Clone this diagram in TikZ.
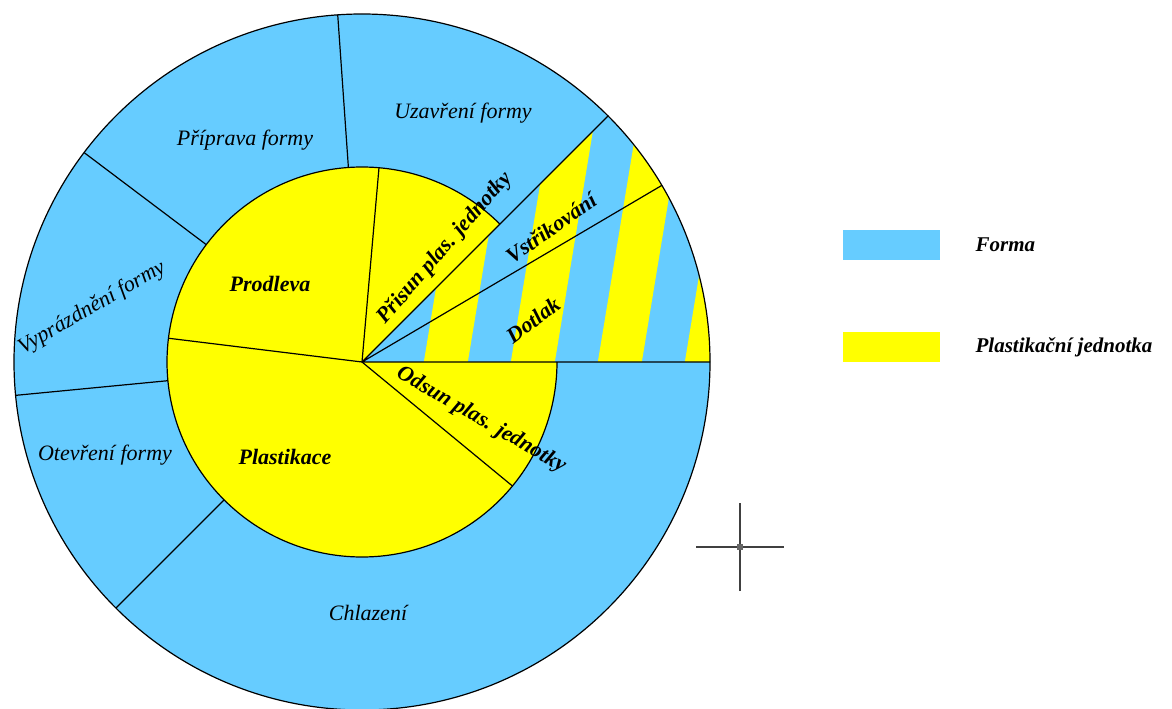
\documentclass[tikz,border=0pt]{standalone}
\usepackage{fontspec}
\setmainfont{Liberation Serif}
\usepackage{tikz}
\definecolor{formablue}{RGB}{102,204,255}
\definecolor{plastyellow}{RGB}{255,255,0}
\tikzset{forma/.style={fill=formablue},plast/.style={fill=plastyellow},
  lbl/.style={font=\fontsize{11}{13}\selectfont\itshape,inner sep=0pt},
  blbl/.style={font=\fontsize{11}{13}\selectfont\bfseries\itshape,inner sep=0pt},
  leglbl/.style={font=\fontsize{10.5}{12}\selectfont\bfseries\itshape,inner sep=0pt,anchor=west}}
\begin{document}
\begin{tikzpicture}[x=0.5pt,y=0.5pt,line width=0.6pt]
\useasboundingbox (0,0) rectangle (1172,708);
\begin{scope}[shift={(362,346)}]
\fill[forma] (0,0) circle (348);
\begin{scope}
\clip (0,0) -- (0:348) arc[start angle=0,end angle=45,radius=348] -- cycle;
\foreach \k in {0,...,3}
  \fill[plast] ({61+87*\k},-5) -- ++(44,0) -- ++(59,358) -- ++(-44,0) -- cycle;
\end{scope}
\fill[plast] (0,0) -- (45:195) arc[start angle=45,end angle=360,radius=195] -- cycle;
\draw (0,0) circle (348);
\draw (45:195) arc[start angle=45,end angle=360,radius=195];
\draw (0,0) -- (0:348) (0,0) -- (30.5:348) (0,0) -- (45:348);
\foreach \a in {94,143,185.5,225} \draw (\a:195) -- (\a:348);
\foreach \a in {85,173,-39.5} \draw (0,0) -- (\a:195);
\end{scope}
\node[lbl] (priprava) at (245,568) {Příprava formy};
\node[lbl] (uzavreni) at (463,595) {Uzavření formy};
\node[lbl,rotate=30] (vyprazdneni) at (92,400) {Vyprázdnění formy};
\node[lbl] (otevreni) at (105,253) {Otevření formy};
\node[lbl] (chlazeni) at (368,95) {Chlazení};
\node[blbl] (prodleva) at (270,424) {Prodleva};
\node[blbl,rotate=49] (prisun) at (445,460) {Přisun plas. jednotky};
\node[blbl,rotate=35] (vstrikovani) at (551,480) {Vstřikování};
\node[blbl,rotate=37] (dotlak) at (533,388) {Dotlak};
\node[blbl] (plastikace) at (285,251) {Plastikace};
\node[blbl,rotate=-30] (odsun) at (481,288) {Odsun plas. jednotky};
\fill[forma] (843,448) rectangle (940,478);
\fill[plast] (843,346) rectangle (940,376);
\node[leglbl] (forma) at (975,463) {Forma};
\node[leglbl] (jednotka) at (975,361) {Plastikační jednotka};
\coordinate (cross) at (740,161);
\draw[black!75] ([xshift=-22pt]cross) -- ([xshift=22pt]cross) ([yshift=-22pt]cross) -- ([yshift=22pt]cross);
\fill[black!60] ([shift={(-1.5pt,-1.5pt)}]cross) rectangle ([shift={(1.5pt,1.5pt)}]cross);
\end{tikzpicture}
\end{document}
